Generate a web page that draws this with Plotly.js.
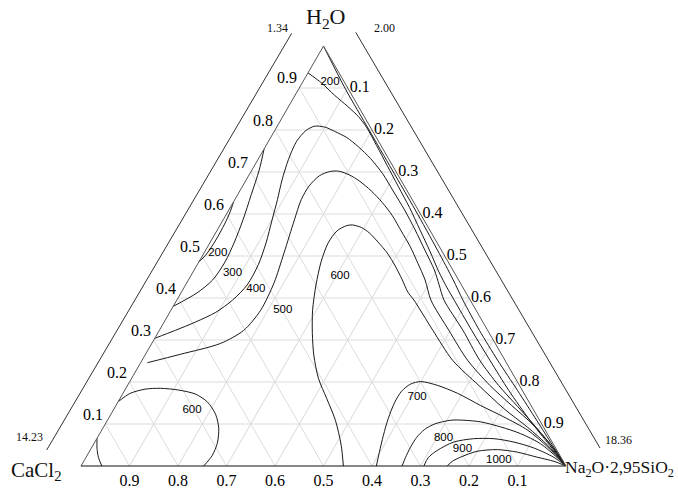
<!DOCTYPE html>
<html><head><meta charset="utf-8">
<script src="https://cdn.plot.ly/plotly-3.0.1.min.js"></script>
<style>html,body{margin:0;padding:0;background:#fff}#chart{width:678px;height:491px}</style>
</head><body><div id="chart"></div>
<script>
// Axes: a = H2O, b = CaCl2, c = Na2O·2,95SiO2 (b = 1 - a - c)
const tickValues = [0.1,0.2,0.3,0.4,0.5,0.6,0.7,0.8,0.9];
const tickLabels = ['0.1','0.2','0.3','0.4','0.5','0.6','0.7','0.8','0.9'];
const vertexNames = ['H<sub>2</sub>O','CaCl<sub>2</sub>','Na<sub>2</sub>O·2,95SiO<sub>2</sub>'];
const scaleLabels = ['1.34','2.00','14.23','18.36'];

// isolines (a, c fractions)
const iso200Left_a = [0.486,0.502,0.538,0.576,0.605,0.629];
const iso200Left_c = [0,0.006,0.009,0.008,0.005,0];

const iso300Left_a = [0.755,0.705,0.646,0.586,0.531,0.486,0.443,0.412,0.380];
const iso300Left_c = [0,0.015,0.028,0.041,0.050,0.054,0.050,0.033,0];

const isoApex_a = [1,0.896,0.801,0.705,0.610,0.514,0.443,0.395,0.323,0.252,0.180,0.109,0.049,0];
const isoApex_c = [0,0.098,0.193,0.289,0.384,0.478,0.546,0.590,0.660,0.733,0.810,0.885,0.948,1];

const iso200Top_a = [0.936,0.912,0.883,0.856,0.832,0.806,0.763,0.715,0.665,0.615,0.562,0.510,0.462,0.424,0.395,0.323,0.252,0.180,0.109,0.049,0];
const iso200Top_c = [0,0.040,0.081,0.122,0.156,0.186,0.228,0.274,0.322,0.370,0.418,0.465,0.507,0.543,0.572,0.644,0.717,0.792,0.871,0.942,1];

const iso400_a = [0.304,0.323,0.343,0.366,0.395,0.431,0.479,0.531,0.586,0.634,0.681,0.729,0.772,0.798,0.809,0.807,0.797,0.782,0.760,0.732,0.696,0.655,0.610,0.562,0.514,0.467,0.431,0.395,0.323,0.252,0.192,0.142,0.094,0.047,0];
const iso400_c = [0,0.033,0.065,0.095,0.115,0.127,0.126,0.116,0.101,0.088,0.074,0.063,0.058,0.064,0.077,0.099,0.124,0.157,0.192,0.231,0.274,0.316,0.362,0.408,0.452,0.495,0.523,0.551,0.626,0.696,0.765,0.829,0.890,0.947,1];

const iso500_a = [0.246,0.266,0.292,0.323,0.371,0.436,0.507,0.586,0.634,0.667,0.691,0.701,0.702,0.693,0.679,0.655,0.627,0.596,0.560,0.522,0.483,0.443,0.395,0.323,0.252,0.192,0.144,0.099,0.051,0];
const iso500_c = [0.014,0.072,0.142,0.174,0.185,0.180,0.165,0.147,0.137,0.137,0.146,0.162,0.180,0.207,0.234,0.271,0.308,0.344,0.380,0.418,0.453,0.488,0.524,0.597,0.671,0.747,0.816,0.882,0.943,1];

const iso600Arch_a = [0,0.049,0.109,0.161,0.209,0.264,0.316,0.371,0.431,0.486,0.531,0.560,0.572,0.574,0.568,0.555,0.533,0.507,0.476,0.443,0.414,0.395,0.323,0.252,0.192,0.137,0.092,0.049,0];
const iso600Arch_c = [0.541,0.512,0.470,0.426,0.385,0.348,0.319,0.292,0.269,0.252,0.244,0.248,0.261,0.272,0.294,0.317,0.346,0.378,0.410,0.441,0.467,0.489,0.564,0.640,0.724,0.803,0.875,0.938,1];

const iso600Loop_a = [0.153,0.173,0.183,0.185,0.181,0.171,0.152,0.123,0.090,0.054,0.025,0];
const iso600Loop_c = [0,0.015,0.041,0.071,0.110,0.151,0.185,0.216,0.239,0.254,0.258,0.253];

const iso600Corner_a = [0.066,0.042,0.020,0];
const iso600Corner_c = [0,0.012,0.026,0.043];

const iso700_a = [0,0.032,0.073,0.113,0.152,0.178,0.195,0.201,0.192,0.173,0.144,0.117,0.085,0.045,0];
const iso700_c = [0.609,0.599,0.587,0.577,0.571,0.572,0.582,0.600,0.639,0.690,0.752,0.813,0.879,0.940,1];

const iso800_a = [0,0.020,0.044,0.068,0.087,0.100,0.109,0.109,0.105,0.093,0.077,0.053,0.020,0];
const iso800_c = [0.662,0.659,0.657,0.658,0.665,0.679,0.708,0.735,0.772,0.819,0.868,0.921,0.972,1];

const iso900_a = [0,0.020,0.037,0.057,0.065,0.065,0.057,0.043,0.021,0];
const iso900_c = [0.707,0.706,0.716,0.740,0.777,0.819,0.864,0.912,0.964,1];

const iso1000_a = [0,0.011,0.021,0.035,0.039,0.033,0.021,0.011,0];
const iso1000_c = [0.755,0.760,0.772,0.799,0.839,0.883,0.930,0.970,1];

// isoline value labels
const labelText = ['200','200','300','400','500','600','600','700','800','900','1000'];
const label_a = [0.913,0.506,0.459,0.421,0.370,0.452,0.134,0.164,0.067,0.039,0.015];
const label_c = [0.057,0.029,0.083,0.150,0.231,0.308,0.162,0.611,0.714,0.767,0.854];

const lines = [
  [iso200Left_a, iso200Left_c], [iso300Left_a, iso300Left_c],
  [isoApex_a, isoApex_c], [iso200Top_a, iso200Top_c],
  [iso400_a, iso400_c], [iso500_a, iso500_c],
  [iso600Arch_a, iso600Arch_c], [iso600Loop_a, iso600Loop_c], [iso600Corner_a, iso600Corner_c],
  [iso700_a, iso700_c], [iso800_a, iso800_c], [iso900_a, iso900_c], [iso1000_a, iso1000_c]
];

const traces = lines.map(([a, c]) => ({
  type: 'scatterternary', mode: 'lines', a: a, c: c,
  line: {color: '#1a1a1a', width: 1, shape: 'spline', smoothing: 0.8},
  hoverinfo: 'skip', showlegend: false
}));
traces.push({
  type: 'scatterternary', mode: 'text', a: label_a, c: label_c, text: labelText,
  textfont: {family: 'Liberation Sans, Arial, sans-serif', size: 11.5, color: '#000'},
  hoverinfo: 'skip', showlegend: false, cliponaxis: false
});

const serif = 'Liberation Serif, Times New Roman, serif';
function axis(lineColor, showLabels) {
  return {
    tickmode: 'array', tickvals: tickValues, ticktext: tickLabels,
    showticklabels: showLabels,
    tickfont: {family: serif, size: 16, color: '#000'},
    ticks: '', showgrid: true, gridcolor: '#dcdcdc', gridwidth: 1,
    showline: true, linecolor: lineColor, linewidth: 1,
    title: {text: ''}
  };
}

// plot area: 485 x 420 px; left-edge tick labels sit up-left of their tick
const leftTickAnnotations = tickValues.map((v, i) => ({
  text: tickLabels[i],
  x: (v * 242.5 - 12.5) / 485, y: (v * 420 + 10) / 420,
  font: {family: serif, size: 16, color: '#000'}
}));

const layout = {
  width: 678, height: 491,
  margin: {l: 81, r: 112, t: 46, b: 25},
  paper_bgcolor: '#fff',
  showlegend: false,
  ternary: {
    sum: 1, bgcolor: '#fff',
    aaxis: axis('#555', false), baxis: axis('#111', true), caxis: axis('#555', true)
  },
  shapes: [
    {type: 'line', xref: 'paper', yref: 'paper', x0: 0.4344, y0: 1.0302, x1: -0.0707, y1: 0.0381, line: {color: '#333', width: 1}},
    {type: 'line', xref: 'paper', yref: 'paper', x0: 0.5664, y0: 1.0326, x1: 1.0701, y1: 0.0429, line: {color: '#333', width: 1}}
  ],
  annotations: [
    {text: vertexNames[0], x: 0.5031, y: 1.0667, font: {family: serif, size: 22, color: '#111'}},
    {text: vertexNames[1], x: -0.0913, y: -0.0112, font: {family: serif, size: 21, color: '#111'}},
    {text: vertexNames[2], x: 1.2268, y: -0.0048, xanchor: 'right', font: {family: serif, size: 17.5, color: '#111'}},
    {text: scaleLabels[0], x: 0.4052, y: 1.0417, font: {family: serif, size: 12, color: '#111'}},
    {text: scaleLabels[1], x: 0.6268, y: 1.0417, font: {family: serif, size: 12, color: '#111'}},
    {text: scaleLabels[2], x: -0.1066, y: 0.0683, font: {family: serif, size: 12, color: '#111'}},
    {text: scaleLabels[3], x: 1.1078, y: 0.0619, font: {family: serif, size: 12, color: '#111'}}
  ].concat(leftTickAnnotations)
   .map(a => Object.assign({xref: 'paper', yref: 'paper', showarrow: false, xanchor: 'center', yanchor: 'middle'}, a))
};

Plotly.newPlot('chart', traces, layout, {displayModeBar: false, staticPlot: true});
</script>
</body></html>
